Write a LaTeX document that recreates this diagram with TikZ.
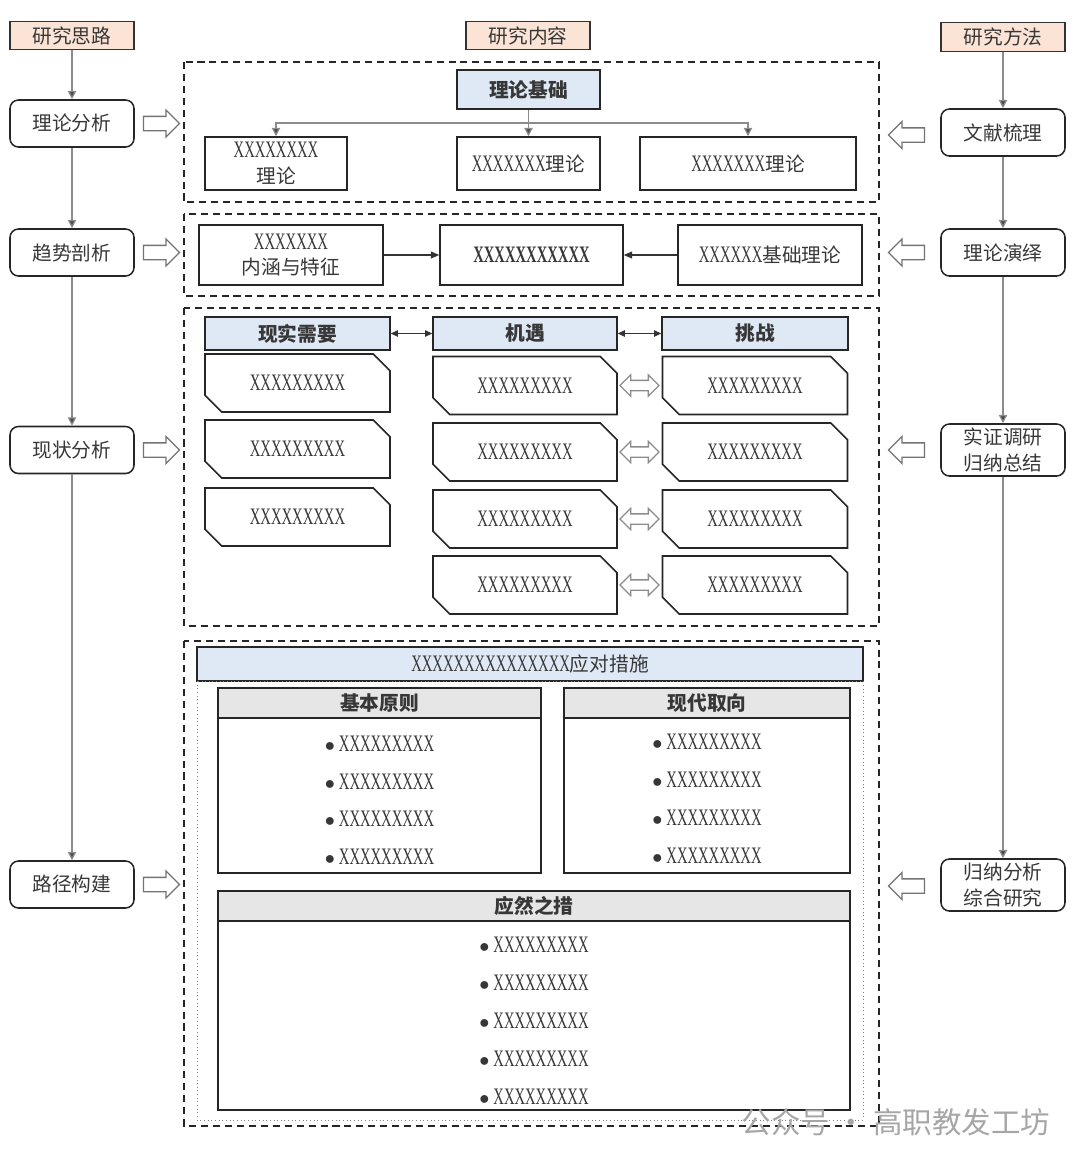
\documentclass[tikz,border=0pt]{standalone}
\usepackage{fontspec}
\setmainfont{Liberation Serif}[Scale=1.2, FakeStretch=0.62]
\newfontfamily\cjk{Noto Sans CJK SC}
\usetikzlibrary{shapes.misc,shapes.arrows,arrows.meta}
\newlength\pu
\setlength\pu{0.025cm}
\definecolor{headpink}{RGB}{251,228,214}
\definecolor{headblue}{RGB}{222,233,245}
\definecolor{headgray}{RGB}{231,230,230}
\definecolor{textgray}{RGB}{55,55,55}
\begin{document}
\begin{tikzpicture}[x=0.025cm, y=-0.025cm]
    \tikzstyle{every node}=[font=\fontsize{14}{18}\selectfont, text=textgray, align=center]
    \tikzstyle{head}=[draw=black!80, line width=1pt, fill=headpink, minimum width=124\pu, minimum height=28\pu, inner sep=0pt]
    \tikzstyle{stage}=[draw=black!85, line width=1.1pt, rounded corners=6pt, minimum width=124\pu, minimum height=47\pu, inner sep=0pt]
    \tikzstyle{box}=[draw=black!85, line width=1.1pt, minimum height=53\pu, inner sep=0pt]
    \tikzstyle{bluebox}=[box, fill=headblue, minimum height=33\pu]
    \tikzstyle{cutbox}=[draw=black!85, line width=1.1pt, chamfered rectangle, chamfered rectangle corners={north east,south west}, chamfered rectangle xsep=9\pu, chamfered rectangle ysep=9\pu, minimum width=185\pu, minimum height=58\pu, inner sep=0pt]
    \tikzstyle{graybox}=[draw=black!85, line width=1.1pt, fill=headgray, minimum height=30\pu, inner sep=0pt]
    \tikzstyle{body}=[draw=black!85, line width=1.1pt, inner sep=0pt]
    \tikzstyle{hollow}=[single arrow, draw=black!55, line width=0.9pt, minimum height=36\pu, inner sep=6.5\pu, single arrow head extend=6.5\pu]
    \tikzstyle{twoway}=[double arrow, draw=black!45, line width=0.9pt, minimum height=39\pu, inner sep=4.5\pu, double arrow head extend=5.5\pu]
    \tikzstyle{flow}=[draw=black!45, line width=0.9pt, -{Triangle[length=6pt, width=6pt, fill=black!70]}]
    \tikzstyle{link}=[draw=black!80, line width=0.8pt, -{Triangle[length=6pt, width=5pt]}]
    \tikzstyle{pair}=[draw=black!80, line width=0.8pt, {Triangle[length=5pt, width=4.5pt]}-{Triangle[length=5pt, width=4.5pt]}]
    \tikzstyle{frame}=[draw=black!85, line width=1.2pt, dash pattern=on 5pt off 3.5pt]
    \tikzstyle{item}=[inner sep=1pt]
    \useasboundingbox (0,0) rectangle (1080,1166);

    % research steps
    \node[head] (h1) at (72,35.5) {\cjk 研究思路};
    \node[stage] (s1) at (72,123.5) {\cjk 理论分析};
    \node[stage] (s2) at (72,252.5) {\cjk 趋势剖析};
    \node[stage] (s3) at (72,450) {\cjk 现状分析};
    \node[stage] (s4) at (72,884.5) {\cjk 路径构建};
    \draw[flow] (h1) -- (s1);
    \draw[flow] (s1) -- (s2);
    \draw[flow] (s2) -- (s3);
    \draw[flow] (s3) -- (s4);
    \node[hollow] (a1) at (158,123.5) {};
    \node[hollow] (a2) at (158,252.5) {};
    \node[hollow] (a3) at (158,450) {};
    \node[hollow] (a4) at (158,884.5) {};

    % research methods
    \node[head, minimum height=29\pu] (h2) at (1003,37) {\cjk 研究方法};
    \node[stage] (m1) at (1003,132.5) {\cjk 文献梳理};
    \node[stage] (m2) at (1003,252.5) {\cjk 理论演绎};
    \node[stage, minimum height=52\pu] (m3) at (1003,450) {\cjk 实证调研\\\cjk 归纳总结};
    \node[stage, minimum height=52\pu] (m4) at (1003,885) {\cjk 归纳分析\\\cjk 综合研究};
    \draw[flow] (h2) -- (m1);
    \draw[flow] (m1) -- (m2);
    \draw[flow] (m2) -- (m3);
    \draw[flow] (m3) -- (m4);
    \node[hollow, shape border rotate=180] (b1) at (910,135) {};
    \node[hollow, shape border rotate=180] (b2) at (910,252.5) {};
    \node[hollow, shape border rotate=180] (b3) at (910,450) {};
    \node[hollow, shape border rotate=180] (b4) at (910,886) {};

    % research content
    \node[head] (h3) at (528,35.5) {\cjk 研究内容};
    \draw[frame] (184,62) rectangle (879,202);
    \draw[frame] (184,214) rectangle (879,296);
    \draw[frame] (184,308) rectangle (879,626);
    \draw[frame] (184,641) rectangle (879,1126);

    \node[bluebox, minimum width=143\pu, minimum height=39\pu] (base) at (528.5,89.5) {\cjk\bfseries 理论基础};
    \node[box, minimum width=142\pu] (t1) at (276,163.5) {XXXXXXXX\\\cjk 理论};
    \node[box, minimum width=143\pu] (t2) at (528.5,163.5) {XXXXXXX\cjk 理论};
    \node[box, minimum width=216\pu] (t3) at (748,163.5) {XXXXXXX\cjk 理论};
    \coordinate (fork) at (528.5,123);
    \draw[flow] (base) -- (t2);
    \draw[flow] (fork) -| (t1);
    \draw[flow] (fork) -| (t3);

    \node[box, minimum width=184\pu, minimum height=60\pu] (c1) at (291,255) {XXXXXXX\\\cjk 内涵与特征};
    \node[box, minimum width=183\pu, minimum height=60\pu] (c2) at (531.5,255) {\bfseries XXXXXXXXXXX};
    \node[box, minimum width=184\pu, minimum height=60\pu] (c3) at (770,255) {XXXXXX\cjk 基础理论};
    \draw[link] (c1) -- (c2);
    \draw[link] (c3) -- (c2);

    \node[bluebox, minimum width=185\pu] (need) at (297.5,333.5) {\cjk\bfseries 现实需要};
    \node[bluebox, minimum width=184\pu] (chance) at (525,333.5) {\cjk\bfseries 机遇};
    \node[bluebox, minimum width=186\pu] (risk) at (755,333.5) {\cjk\bfseries 挑战};
    \draw[pair] (need) -- (chance);
    \draw[pair] (chance) -- (risk);
    \foreach \i/\y in {1/383, 2/449, 3/517}
        \node[cutbox] (n\i) at (297.5,\y) {XXXXXXXXX};
    \foreach \i/\y in {1/385.5, 2/452, 3/519, 4/585}
    {
        \node[cutbox, minimum width=184\pu] (o\i) at (525,\y) {XXXXXXXXX};
        \node[cutbox] (r\i) at (755,\y) {XXXXXXXXX};
        \node[twoway] (d\i) at (639.5,\y) {};
    }

    \node[bluebox, minimum width=666\pu, minimum height=34\pu] (plan) at (530,664) {XXXXXXXXXXXXXXX\cjk 应对措施};
    \draw[black!50, line width=0.6pt, dotted] (197,681) rectangle (863,1120);
    \node[graybox, minimum width=323\pu] (p1) at (379.5,703) {\cjk\bfseries 基本原则};
    \node[body, minimum width=323\pu, minimum height=155\pu] (q1) at (379.5,795.5) {};
    \node[graybox, minimum width=286\pu] (p2) at (707,703) {\cjk\bfseries 现代取向};
    \node[body, minimum width=286\pu, minimum height=155\pu] (q2) at (707,795.5) {};
    \node[graybox, minimum width=632\pu] (p3) at (534,906) {\cjk\bfseries 应然之措};
    \node[body, minimum width=632\pu, minimum height=189\pu] (q3) at (534,1015.5) {};
    \foreach \y [count=\i] in {744, 782, 819, 857}
        \node[item] (u\i) at (379.5,\y) {$\bullet$\,XXXXXXXXX};
    \foreach \y [count=\i] in {742, 780, 818, 856}
        \node[item] (v\i) at (707,\y) {$\bullet$\,XXXXXXXXX};
    \foreach \y [count=\i] in {945, 983, 1021, 1059, 1097}
        \node[item] (w\i) at (534,\y) {$\bullet$\,XXXXXXXXX};

    \node[text=black!35, font=\fontsize{21}{24}\selectfont] (mark) at (896,1122) {\cjk 公众号 · 高职教发工坊};
\end{tikzpicture}
\end{document}
